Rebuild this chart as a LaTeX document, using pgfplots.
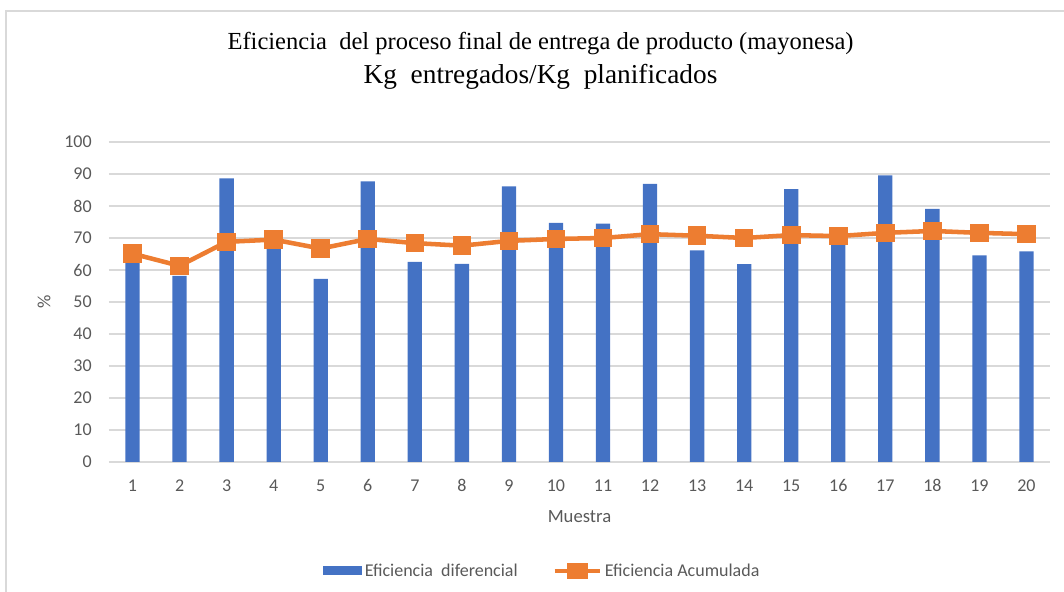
\documentclass[border=0pt]{standalone}
\usepackage{pgfplots}
\pgfplotsset{compat=1.18}
\usepackage{fontspec}
\setmainfont{Liberation Serif}
\newfontfamily\calibri{Carlito}

\definecolor{barblue}{HTML}{4472C4}
\definecolor{lineorange}{HTML}{ED7D31}
\definecolor{gridgray}{HTML}{D9D9D9}
\definecolor{txtgray}{HTML}{595959}

% Eficiencia diferencial (bars) per muestra
\pgfplotstableread{
x y
1 65.1
2 58.2
3 88.6
4 69.0
5 57.2
6 87.7
7 62.5
8 61.9
9 86.1
10 74.7
11 74.5
12 86.9
13 66.1
14 61.8
15 85.3
16 70.0
17 89.6
18 79.1
19 64.6
20 65.8
}\diferencial

% Eficiencia acumulada (line) per muestra
\pgfplotstableread{
x y
1 65.1
2 61.3
3 68.8
4 69.5
5 66.7
6 69.7
7 68.4
8 67.6
9 69.1
10 69.7
11 70.0
12 71.2
13 70.7
14 70.0
15 70.9
16 70.6
17 71.6
18 72.2
19 71.6
20 71.2
}\acumulada

\begin{document}
\begin{tikzpicture}
\useasboundingbox (0,0) rectangle (798pt,444pt);
% chart frame
\draw[gridgray, line width=1.5pt] (4.5pt,0) -- (4.5pt,435.75pt) -- (798pt,435.75pt);
% titles
\node[font=\fontsize{18.4}{21}\selectfont, text=black] at (405.4pt,411pt) {Eficiencia\ \ del proceso final de entrega de producto (mayonesa)};
\node[font=\fontsize{20.5}{24}\selectfont, text=black] at (405.4pt,386.5pt) {Kg\ \ entregados/Kg\ \ planificados};

\begin{axis}[
  at={(81.75pt,97.5pt)}, anchor=south west,
  scale only axis, width=705.75pt, height=240pt,
  xmin=0.5, xmax=20.5, ymin=0, ymax=100,
  xtick={1,...,20}, ytick={0,10,...,100},
  ymajorgrids, grid style={gridgray, line width=0.9pt},
  axis line style={draw=none},
  extra y ticks={0}, extra y tick labels={},
  extra y tick style={grid style={gridgray, line width=1.1pt}},
  major tick length=0pt,
  tick label style={font=\calibri\fontsize{13.5}{16}\selectfont, text=txtgray},
  xticklabel style={anchor=base, yshift=-22pt},
  yticklabel style={anchor=east, inner sep=0pt, xshift=-12.75pt},
  /pgf/number format/assume math mode=true,
  xlabel={Muestra}, ylabel={\%},
  every axis x label/.style={at={(axis description cs:0.5,-0.172)}, anchor=center,
    font=\calibri\fontsize{14}{16}\selectfont, text=txtgray},
  every axis y label/.style={at={(axis description cs:-0.069,0.5)}, anchor=center, rotate=90,
    font=\calibri\fontsize{14}{16}\selectfont, text=txtgray},
  legend style={draw=none, fill=none, at={(axis description cs:0.461,-0.34)}, anchor=center,
    font=\calibri\fontsize{13.5}{16}\selectfont, text=txtgray, legend columns=2,
    /tikz/every even column/.append style={column sep=24pt}},
  clip=false,
]
\addplot[ybar, bar width=10.7pt, fill=barblue, draw=none,
  legend image code/.code={\fill[barblue] (0pt,-3.4pt) rectangle (29pt,3.4pt);}]
  table[x=x,y=y]{\diferencial};
\addlegendentry{Eficiencia\ \ diferencial}
\addplot[lineorange, line width=3.4pt, mark=square*, mark size=6.6pt,
  mark options={fill=lineorange, draw=lineorange, line width=0pt},
  legend image code/.code={\draw[lineorange, line width=3.4pt] (0pt,0pt) -- (34pt,0pt);
    \fill[lineorange] (11pt,-4.5pt) rectangle (23pt,4.5pt);}]
  table[x=x,y=y]{\acumulada};
\addlegendentry{Eficiencia Acumulada}
\end{axis}
\end{tikzpicture}
\end{document}
